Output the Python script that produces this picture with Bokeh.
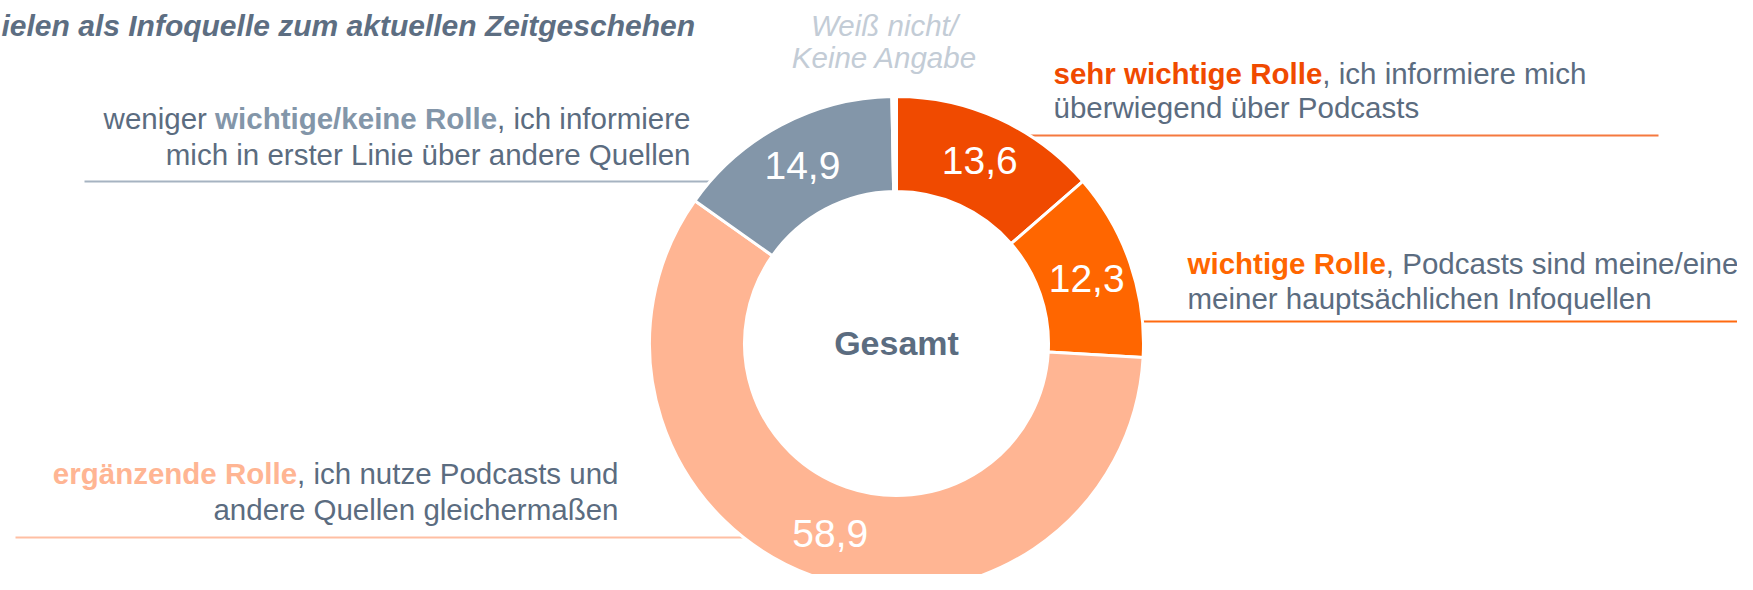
import numpy as np
from bokeh.plotting import figure
from bokeh.models import Range1d, ColumnDataSource
from bokeh.core.properties import value
from bokeh.embed import file_html
from bokeh.resources import INLINE

# ---------------- data ----------------
categories = ["sehr wichtige Rolle", "wichtige Rolle", "ergänzende Rolle",
              "weniger wichtige/keine Rolle", "Weiß nicht/Keine Angabe"]
values = [13.6, 12.3, 58.9, 14.9, 0.3]
value_labels = ["13,6", "12,3", "58,9", "14,9", ""]
colors = ["#f04a00", "#ff6600", "#ffb593", "#8396a9", "#ffffff"]

title_text = "ielen als Infoquelle zum aktuellen Zeitgeschehen"
center_text = "Gesamt"
dk_lines = ["Weiß nicht/", "Keine Angabe"]

# ---------------- layout helpers ----------------
W, H = 1737, 574
FONT = "Liberation Sans"
SLATE = "#5b6c80"
LS = 29.5  # label font size px


def Y(ry):
    return 590 - ry


REG = {' ': 278, ',': 278, '/': 278, 'a': 556, 'b': 556, 'c': 500, 'd': 556, 'e': 556, 'f': 278,
       'g': 556, 'h': 556, 'i': 222, 'k': 500, 'l': 222, 'm': 833, 'n': 556, 'o': 556, 'p': 556,
       'q': 556, 'r': 333, 's': 500, 't': 278, 'u': 556, 'w': 722, 'z': 500, 'ä': 556, 'ü': 556,
       'ß': 611, 'P': 667, 'Q': 778, 'L': 556, 'I': 278, 'R': 722}
BOLD = {' ': 278, ',': 278, '/': 278, 'a': 556, 'b': 611, 'c': 556, 'd': 611, 'e': 556, 'g': 611,
        'h': 611, 'i': 278, 'k': 556, 'l': 278, 'n': 611, 'o': 611, 'r': 389, 's': 556, 't': 333,
        'w': 778, 'z': 500, 'ä': 556, 'R': 722}


def tw(s, bold=False, size=LS):
    t = BOLD if bold else REG
    return sum(t.get(c, 556) for c in s) * size / 1000.0


p = figure(width=W, height=H, x_range=Range1d(0, W), y_range=Range1d(590 - H, 590),
           output_backend="svg", toolbar_location=None, min_border=0,
           x_axis_location=None, y_axis_location=None)
p.grid.visible = False
p.outline_line_color = None
p.background_fill_color = "white"
p.border_fill_color = "white"

cx, cy = 896, Y(343)
R_OUT, R_IN = 247, 152

# ---------------- leader lines (under the ring) ----------------
leaders = [
    ([1000, 1658], 135, "#f5793f"),
    ([1100, 1760], 321, "#ff6a10"),
    ([84, 730], 181, "#a6b3c1"),
    ([15, 770], 537, "#ffbfa3"),
]
for xs, ry, col in leaders:
    p.line(xs, [Y(ry), Y(ry)], line_color=col, line_width=2)

# ---------------- donut ----------------
vals = np.array(values)
total = vals.sum()
cum = np.cumsum(vals)
start = np.pi / 2 - 2 * np.pi * cum / total
end = np.pi / 2 - 2 * np.pi * (cum - vals) / total
mid = np.pi / 2 - 2 * np.pi * (cum - vals / 2) / total

src = ColumnDataSource(dict(start=start, end=end, color=colors, cat=categories))
p.annular_wedge(x=cx, y=cy, inner_radius=R_IN, outer_radius=R_OUT,
                inner_radius_units="screen", outer_radius_units="screen",
                start_angle="start", end_angle="end", fill_color="color",
                line_color="white", line_width=3, source=src)

lab_r = 201
p.text(x=list(cx + lab_r * np.cos(mid)), y=list(cy + lab_r * np.sin(mid)), text=value_labels,
       text_font=value(FONT), text_font_size="39px", text_color="white",
       text_align="center", text_baseline="middle")

p.text(x=[cx], y=[Y(342)], text=[center_text], text_font=value(FONT), text_font_size="34px",
       text_font_style="bold", text_color=SLATE, text_align="center", text_baseline="middle")

# ---------------- title & "weiß nicht" ----------------
p.text(x=[1], y=[Y(25)], text=[title_text], text_font=value(FONT), text_font_size="30px",
       text_font_style="bold italic", text_color="#5d6e82", text_align="left",
       text_baseline="alphabetic")
p.text(x=[884, 884], y=[Y(25), Y(57)], text=dk_lines, text_font=value(FONT),
       text_font_size="29.5px", text_font_style="italic", text_color="#c3ccd6",
       text_align="center", text_baseline="alphabetic")


# ---------------- category labels ----------------
def seg(x, ry, s, bold, col, align):
    p.text(x=[x], y=[Y(ry)], text=[s], text_font=value(FONT), text_font_size=f"{LS}px",
           text_font_style="bold" if bold else "normal", text_color=col,
           text_align=align, text_baseline="alphabetic")


def left_label(x, ry1, ry2, bold, rest, line2, col):
    seg(x, ry1, bold, True, col, "left")
    seg(x + tw(bold, True), ry1, rest, False, SLATE, "left")
    seg(x, ry2, line2, False, SLATE, "left")


def right_label(xr, ry1, ry2, pre, bold, rest, line2, col):
    seg(xr, ry1, rest, False, SLATE, "right")
    xb = xr - tw(rest)
    seg(xb, ry1, bold, True, col, "right")
    if pre:
        seg(xb - tw(bold, True), ry1, pre, False, SLATE, "right")
    seg(xr, ry2, line2, False, SLATE, "right")


left_label(1053, 73, 107, "sehr wichtige Rolle", ", ich informiere mich",
           "überwiegend über Podcasts", colors[0])
left_label(1187, 263, 298, "wichtige Rolle", ", Podcasts sind meine/eine",
           "meiner hauptsächlichen Infoquellen", colors[1])
right_label(690, 118, 154, "weniger ", "wichtige/keine Rolle", ", ich informiere",
            "mich in erster Linie über andere Quellen", colors[3])
right_label(618, 473, 509, "", "ergänzende Rolle", ", ich nutze Podcasts und",
            "andere Quellen gleichermaßen", colors[2])

open("out.html", "w").write(file_html(p, INLINE))
